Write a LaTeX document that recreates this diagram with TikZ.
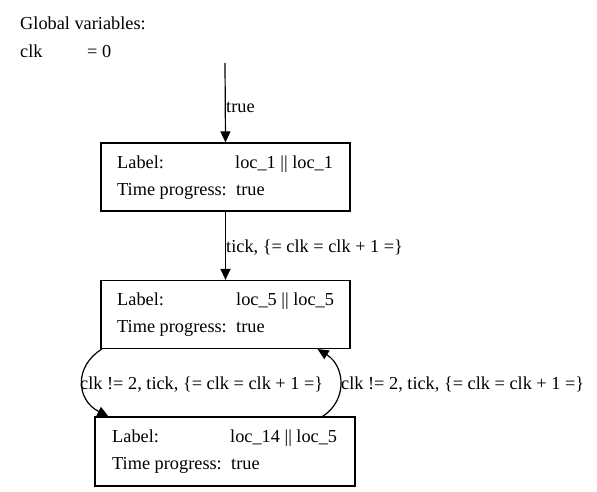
\documentclass[tikz,border=0pt]{standalone}
\usepackage{fontspec}
\setmainfont{Liberation Serif}
\usetikzlibrary{arrows.meta,calc}
\begin{document}
\begin{tikzpicture}[x=1pt,y=-1pt,
  every node/.style={font=\fontsize{18.3}{20}\selectfont, inner sep=0pt},
  txt/.style={anchor=base west},
  box/.style={draw, line width=1.2pt, rectangle, minimum height=68pt},
  arr/.style={line width=1.2pt, -{Triangle[length=11pt,width=10pt]}}]
\useasboundingbox (0,0) rectangle (597,492);
% global variables
\node[txt] (gv) at (20,30) {Global variables:};
\node[txt] (clk) at (20,58) {clk};
\node[txt] (clkv) at (87,58) {= 0};
% boxes
\node[box, minimum width=249pt] (b1) at (225.5,177) {};
\node[box, minimum width=249pt] (b2) at (225.5,314.5) {};
\node[box, minimum width=260pt, minimum height=69pt] (b3) at (225,451.5) {};
% box texts
\node[txt] (b1a) at (117,168) {Label:};
\node[txt] (b1b) at (235,168) {loc\_1 || loc\_1};
\node[txt] (b1c) at (117,195) {Time progress:};
\node[txt] (b1d) at (236,195) {true};
\node[txt] (b2a) at (117,305) {Label:};
\node[txt] (b2b) at (236,305) {loc\_5 || loc\_5};
\node[txt] (b2c) at (117,332) {Time progress:};
\node[txt] (b2d) at (236,332) {true};
\node[txt] (b3a) at (112,442) {Label:};
\node[txt] (b3b) at (230,442) {loc\_14 || loc\_5};
\node[txt] (b3c) at (112,469) {Time progress:};
\node[txt] (b3d) at (231,469) {true};
% edges
\coordinate (start) at (225,63);
\draw[arr] (start) -- (b1.north);
\node[txt] (l0) at (226,113) {true};
\draw[arr] (b1.south) -- (b2.north);
\node[txt] (l1) at (226,252) {tick, \{= clk = clk + 1 =\}};
\draw[arr] ([xshift=1.5pt]b2.south west) .. controls (74,366) and (76,400) .. ([xshift=14pt]b3.north west);
\node[txt] (l2) at (80,389) {clk != 2, tick, \{= clk = clk + 1 =\}};
\draw[arr] ([xshift=-33pt]b3.north east) .. controls (348,400) and (345,366) .. ([xshift=-33pt]b2.south east);
\node[txt] (l3) at (341,389) {clk != 2, tick, \{= clk = clk + 1 =\}};
\end{tikzpicture}
\end{document}
